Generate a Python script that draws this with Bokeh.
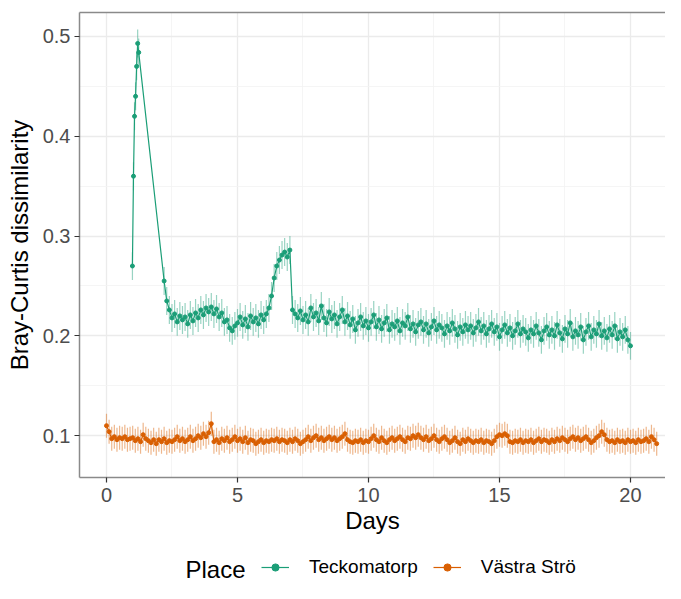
import numpy as np
from bokeh.plotting import figure
from bokeh.layouts import column
from bokeh.models import Range1d, FixedTicker, Legend, LegendItem, Label, LinearAxis
from bokeh.embed import file_html
from bokeh.resources import INLINE

# ---------------- data ----------------
places = ["Teckomatorp", "Västra Strö"]
colors = ["#1b9e77", "#d95f02"]
legend_title = "Place"

# Teckomatorp: early hourly samples (day 1) then regular samples every 0.1 day
tk_early_days = [0.99, 1.03, 1.07, 1.11, 1.15, 1.19, 1.23, 2.2]
tk_early_vals = [0.270, 0.360, 0.420, 0.440, 0.470, 0.493, 0.484, 0.255]
tk_start, tk_step = 2.3, 0.1
tk_vals = [
    0.235, 0.226, 0.218, 0.222, 0.214, 0.220, 0.216,
    0.219, 0.212, 0.221, 0.215, 0.223, 0.218, 0.226, 0.221, 0.228, 0.224,
    0.229, 0.222, 0.227, 0.219, 0.223, 0.214, 0.216, 0.208, 0.205, 0.210,
    0.213, 0.219, 0.211, 0.217, 0.209, 0.220, 0.214, 0.218, 0.212, 0.221,
    0.216, 0.222, 0.228, 0.240, 0.258, 0.270, 0.276, 0.281, 0.284, 0.279,
    0.286, 0.226, 0.222, 0.218, 0.225, 0.216, 0.221, 0.214, 0.228, 0.219,
    0.223, 0.215, 0.230, 0.218, 0.213, 0.224, 0.217, 0.221, 0.212, 0.219,
    0.226, 0.214, 0.220, 0.211, 0.217, 0.206, 0.213, 0.219, 0.210, 0.215,
    0.208, 0.214, 0.221, 0.209, 0.216, 0.207, 0.213, 0.218, 0.206, 0.212,
    0.209, 0.215, 0.205, 0.213, 0.210, 0.219, 0.207, 0.212, 0.204, 0.211,
    0.214, 0.206, 0.212, 0.203, 0.209, 0.215, 0.206, 0.211, 0.208, 0.202,
    0.210, 0.205, 0.213, 0.207, 0.201, 0.209, 0.204, 0.211, 0.206, 0.210,
    0.203, 0.208, 0.214, 0.205, 0.210, 0.202, 0.207, 0.212, 0.204, 0.209,
    0.199, 0.206, 0.211, 0.203, 0.208, 0.200, 0.205, 0.212, 0.202, 0.207,
    0.204, 0.198, 0.206, 0.202, 0.210, 0.203, 0.196, 0.205, 0.209, 0.201,
    0.206, 0.200, 0.211, 0.203, 0.197, 0.207, 0.202, 0.213, 0.199, 0.205,
    0.201, 0.209, 0.196, 0.204, 0.210, 0.199, 0.206, 0.202, 0.212, 0.200,
    0.205, 0.198, 0.207, 0.201, 0.210, 0.197, 0.204, 0.199, 0.206, 0.196,
    0.190,
]
tk_err = 0.014

# Västra Strö: samples every 0.1 day from day 0
vs_start, vs_step = 0.0, 0.1
vs_vals = [
    0.110, 0.104, 0.097, 0.099, 0.096, 0.098, 0.097, 0.099, 0.096, 0.097,
    0.098, 0.095, 0.097, 0.094, 0.101, 0.097, 0.095, 0.093, 0.096, 0.092,
    0.096, 0.094, 0.097, 0.093, 0.095, 0.094, 0.096, 0.099, 0.095, 0.097,
    0.094, 0.096, 0.099, 0.095, 0.097, 0.100, 0.098, 0.102, 0.099, 0.103,
    0.112, 0.094, 0.096, 0.093, 0.097, 0.095, 0.098, 0.094, 0.096, 0.099,
    0.095, 0.097, 0.094, 0.098, 0.093, 0.096, 0.095, 0.092, 0.094, 0.096,
    0.093, 0.095, 0.094, 0.096, 0.095, 0.097, 0.094, 0.096, 0.095, 0.093,
    0.096, 0.094, 0.097, 0.095, 0.092, 0.094, 0.096, 0.099, 0.095, 0.098,
    0.100, 0.096, 0.098, 0.095, 0.097, 0.099, 0.096, 0.098, 0.095, 0.097,
    0.099, 0.102, 0.096, 0.094, 0.093, 0.095, 0.094, 0.096, 0.093, 0.095,
    0.094, 0.097, 0.100, 0.096, 0.094, 0.098, 0.095, 0.093, 0.096, 0.098,
    0.095, 0.097, 0.099, 0.096, 0.094, 0.098, 0.097, 0.100, 0.098, 0.101,
    0.098, 0.096, 0.099, 0.095, 0.097, 0.100, 0.096, 0.094, 0.097, 0.099,
    0.096, 0.093, 0.095, 0.098, 0.094, 0.092, 0.096, 0.094, 0.097, 0.095,
    0.093, 0.095, 0.094, 0.096, 0.093, 0.095, 0.094, 0.092, 0.095, 0.099,
    0.101, 0.100, 0.102, 0.100, 0.094, 0.093, 0.095, 0.094, 0.096, 0.093,
    0.095, 0.094, 0.096, 0.093, 0.095, 0.097, 0.094, 0.096, 0.095, 0.093,
    0.096, 0.094, 0.097, 0.095, 0.098, 0.096, 0.094, 0.097, 0.099, 0.096,
    0.098, 0.095, 0.097, 0.099, 0.096, 0.093, 0.095, 0.098, 0.100, 0.104,
    0.101, 0.096, 0.094, 0.095, 0.093, 0.096, 0.094, 0.095, 0.093, 0.096,
    0.094, 0.095, 0.093, 0.096, 0.094, 0.095, 0.097, 0.094, 0.099, 0.096,
    0.092,
]
vs_err = 0.012

x_ticks = [0, 5, 10, 15, 20]
x_minor = [2.5, 7.5, 12.5, 17.5]
y_ticks = [0.1, 0.2, 0.3, 0.4, 0.5]
y_minor = [0.15, 0.25, 0.35, 0.45]

# ---------------- build series ----------------
tk_x = list(tk_early_days) + [round(tk_start + i * tk_step, 3) for i in range(len(tk_vals))]
tk_y = list(tk_early_vals) + list(tk_vals)
vs_x = [round(vs_start + i * vs_step, 3) for i in range(len(vs_vals))]
vs_y = list(vs_vals)

series = [
    (np.array(tk_x), np.array(tk_y), tk_err),
    (np.array(vs_x), np.array(vs_y), vs_err),
]

FONT = "Liberation Sans"
BORDER = "#8a8a8a"
W = 665

p = figure(
    width=W, height=539,
    x_range=Range1d(-1.03, 21.336), y_range=Range1d(0.0581, 0.524),
    output_backend="svg", toolbar_location=None,
    min_border_left=79, min_border_right=0, min_border_top=12, min_border_bottom=62,
    background_fill_color="white", border_fill_color="white",
)
# panel border on left / top / bottom only (the panel runs past the right edge)
p.outline_line_color = None

xax = p.xaxis[0]
yax = p.yaxis[0]

# grid
xax.ticker = FixedTicker(ticks=x_ticks, minor_ticks=x_minor)
yax.ticker = FixedTicker(ticks=y_ticks, minor_ticks=y_minor)
for g in (p.xgrid, p.ygrid):
    g.grid_line_color = "#ebebeb"
    g.grid_line_width = 1.3
    g.minor_grid_line_color = "#f3f3f3"
    g.minor_grid_line_width = 0.8

# axes
for ax in (xax, yax):
    ax.axis_line_color = BORDER
    ax.axis_line_width = 1.5
    ax.major_tick_line_color = "#333333"
    ax.major_tick_line_width = 1.2
    ax.major_tick_out = 5
    ax.major_tick_in = 0
    ax.minor_tick_line_color = None
    ax.major_label_text_font = FONT
    ax.major_label_text_font_size = "20px"
    ax.major_label_text_color = "#4d4d4d"
    ax.axis_label_text_font = FONT
    ax.axis_label_text_font_size = "24px"
    ax.axis_label_text_font_style = "normal"
    ax.axis_label_text_color = "#000000"

xax.axis_label = "Days"
yax.axis_label = "Bray-Curtis dissimilarity"
xax.major_label_standoff = 5
xax.axis_label_standoff = 2
yax.major_label_standoff = 4
yax.axis_label_standoff = 7

top = LinearAxis(ticker=FixedTicker(ticks=[]), axis_line_color=BORDER, axis_line_width=1.5,
                 major_tick_line_color=None, minor_tick_line_color=None,
                 major_tick_out=0, major_tick_in=0, major_label_standoff=0,
                 major_label_text_font_size="0px")
p.add_layout(top, "above")

for name, color, (xs, ys, err) in zip(places, colors, series):
    p.segment(x0=xs, y0=ys - err, x1=xs, y1=ys + err,
              line_color=color, line_width=1.2, line_alpha=0.45)
    p.line(xs, ys, line_color=color, line_width=1.2)
    p.scatter(xs, ys, size=4, fill_color=color, line_color=color)

# ---------------- legend strip (frame aligned with the main plot) ----------------
leg = figure(
    width=W, height=44, x_range=Range1d(0, 1), y_range=Range1d(10, 11),
    output_backend="svg", toolbar_location=None,
    min_border_left=0, min_border_right=0, min_border_top=0, min_border_bottom=0,
    background_fill_color="white", border_fill_color="white",
)
leg.axis.visible = False
leg.grid.visible = False
leg.outline_line_color = None

items = []
for name, color, (xs, ys, err) in zip(places, colors, series):
    # same series, drawn outside this strip's visible range: only the legend glyph shows
    ln = leg.line(xs, ys, line_color=color, line_width=1.2)
    sc = leg.scatter(xs, ys, size=4, fill_color=color, line_color=color)
    items.append(LegendItem(label=name, renderers=[ln, sc]))

legend = Legend(
    items=items, orientation="horizontal", location=(182, 5),
    padding=0, margin=0, spacing=15, label_standoff=20,
    glyph_width=28, glyph_height=18, label_height=18,
    label_text_font=FONT, label_text_font_size="19px", label_text_color="#000000",
    border_line_color=None, background_fill_alpha=0,
)
leg.add_layout(legend, "center")

leg.add_layout(Label(
    x=106, y=14, x_units="screen", y_units="screen", text=legend_title,
    text_font=FONT, text_font_size="24px", text_baseline="middle",
    text_color="#000000",
))

layout = column(p, leg, spacing=0)
open("out.html", "w").write(file_html(layout, INLINE))
